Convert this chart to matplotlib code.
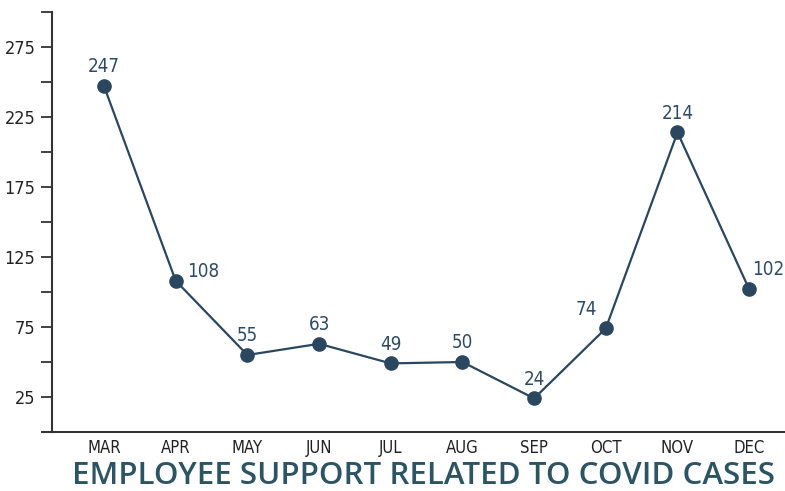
import matplotlib
matplotlib.use("Agg")
import matplotlib.pyplot as plt
from matplotlib.ticker import MultipleLocator

months = ["MAR", "APR", "MAY", "JUN", "JUL", "AUG", "SEP", "OCT", "NOV", "DEC"]
cases = [247, 108, 55, 63, 49, 50, 24, 74, 214, 102]
label_pos = ["top", "right", "top", "top", "top", "top", "top", "topleft", "top", "topright"]
title = "EMPLOYEE SUPPORT RELATED TO COVID CASES"

line_color = "#2b4760"
text_color = "#2e4b66"
title_color = "#2d5462"
axis_color = "#333333"

narrow = ["DejaVu Sans", "Liberation Sans"]

fig = plt.figure(figsize=(7.85, 4.91), dpi=100)
W, H = 785, 491
ax = fig.add_axes([52 / W, 1 - 432 / H, 1 - 52 / W, (432 - 12) / H])

x = list(range(len(months)))
ax.plot(x, cases, color=line_color, lw=1.6, marker="o", ms=9.5, zorder=3)

offsets = {"top": (0, 7, "center", "bottom"),
           "right": (8, 0, "left", "bottom"),
           "topleft": (-6, 7, "right", "bottom"),
           "topright": (2, 7, "left", "bottom")}
for xi, v, p in zip(x, cases, label_pos):
    dx, dy, ha, va = offsets[p]
    ax.annotate(str(v), (xi, v), xytext=(dx, dy), textcoords="offset points",
                ha=ha, va=va, fontsize=13.5, color=text_color, family=narrow,
                fontstretch="condensed")

ax.set_xlim(-0.726, 9.5)
ax.set_ylim(0, 300)
ax.set_xticks(x)
ax.set_xticklabels(months, family=narrow, fontsize=12, color="#222222",
                   fontstretch="condensed")
ax.set_yticks([25, 75, 125, 175, 225, 275])
ax.set_yticklabels(["25", "75", "125", "175", "225", "275"], family=narrow,
                   fontsize=13, color="#222222", fontstretch="condensed")
ax.yaxis.set_minor_locator(MultipleLocator(50))
ax.tick_params(axis="y", which="both", length=8, width=1.3, color=axis_color, pad=4, direction="out")
ax.tick_params(axis="x", length=0, pad=5)

for s in ["top", "right", "bottom"]:
    ax.spines[s].set_visible(False)
ax.spines["left"].set_color(axis_color)
ax.spines["left"].set_linewidth(1.5)
ax.plot([-11 / 733, 1], [0, 0], transform=ax.transAxes, color=axis_color,
        lw=1.5, clip_on=False, solid_capstyle="butt")

fig.text(423 / W, 0, title, ha="center", va="bottom", fontsize=22.5,
         fontweight="semibold", color=title_color, family=["Open Sans", "DejaVu Sans"])

fig.savefig("out.png", dpi=100)
